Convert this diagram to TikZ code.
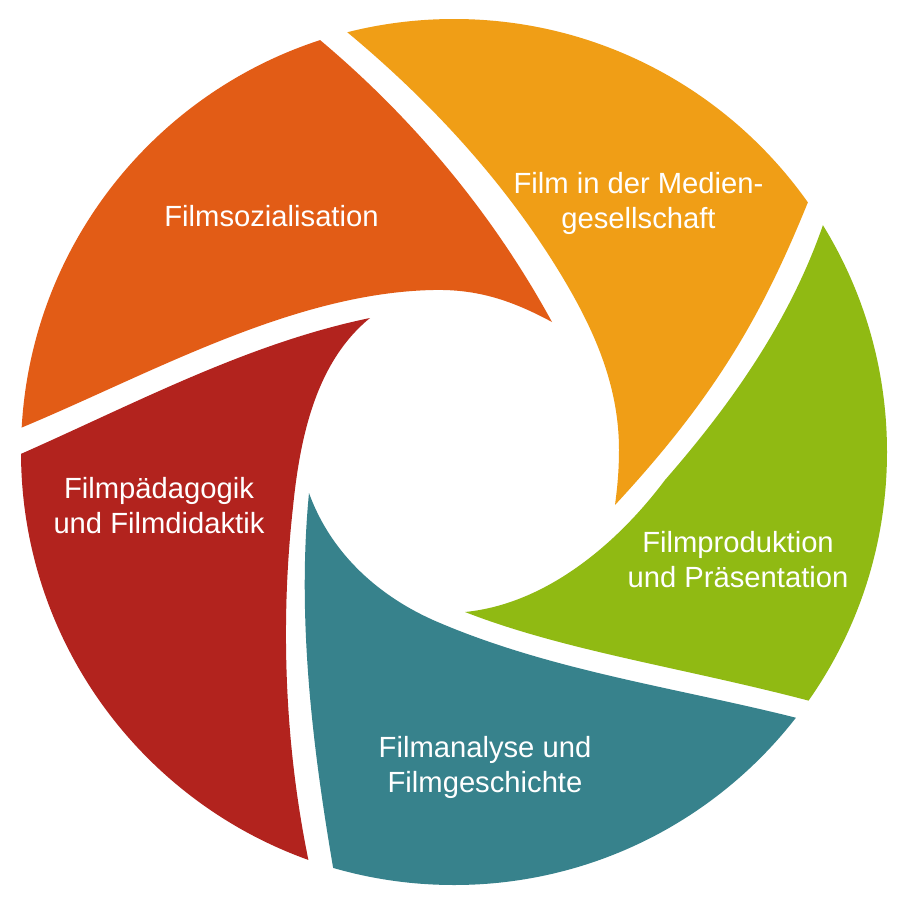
\documentclass[tikz,border=0pt]{standalone}
\usepackage{fontspec}
\setmainfont{Liberation Sans}
\definecolor{cOrange}{RGB}{226,92,22}
\definecolor{cYellow}{RGB}{240,158,22}
\definecolor{cGreen}{RGB}{144,186,19}
\definecolor{cTeal}{RGB}{55,130,140}
\definecolor{cRed}{RGB}{178,35,30}
\begin{document}
\begin{tikzpicture}[x=1pt,y=-1pt,
  bladefill/.style={draw=none},
  blabel/.style={text=white, align=center, inner sep=0pt,
    font=\fontsize{29.2}{35}\selectfont}]
\useasboundingbox (0,0) rectangle (900,900);
\fill[white] (0,0) rectangle (900,900);
\begin{scope}
\clip (454,452) circle[radius=433];
% Filmsozialisation (orange)
\fill[bladefill, cOrange] (-14,442) -- (23,427)
  .. controls (152,373) and (293,293) .. (433,290)
  .. controls (478,289) and (512,300.5) .. (552,322)
  .. controls (493,214) and (414,119) .. (320,40)
  -- (293,10) -- (-60,-60) -- (-60,442) -- cycle;
% Film in der Mediengesellschaft (yellow)
\fill[bladefill, cYellow] (318,4) -- (347,32)
  .. controls (430,101) and (504,181) .. (560,273)
  .. controls (594,329) and (619,385) .. (619,450)
  .. controls (619,472) and (617,490) .. (615,505)
  .. controls (717,395) and (763,313) .. (808,202)
  -- (826,166) -- (960,-60) -- (318,-60) -- cycle;
% Filmproduktion (green)
\fill[bladefill, cGreen] (841,189) -- (823,225)
  .. controls (790,320) and (733,402) .. (665,480)
  .. controls (617,544) and (546,604) .. (465,612)
  .. controls (565,651) and (685,668) .. (810,701)
  -- (849,710) -- (960,720) -- (960,180) -- cycle;
% Filmanalyse (teal)
\fill[bladefill, cTeal] (341,906) -- (333,867)
  .. controls (312,744) and (297,617) .. (309,493)
  .. controls (331,554) and (380,598) .. (440,623)
  .. controls (553,671) and (678,688) .. (797,718)
  -- (836,728) -- (960,740) -- (960,960) -- (345,960) -- cycle;
% Filmpaedagogik (red)
\fill[bladefill, cRed] (-14,468) -- (23,453)
  .. controls (138,402) and (249,343) .. (370,318)
  .. controls (316,362) and (300,437) .. (293,507)
  .. controls (280,623) and (285,745) .. (308,858)
  -- (315,897) -- (-60,960) -- (-60,468) -- cycle;
\end{scope}
\node[blabel] (sozial) at (271.5,216.5) {Filmsozialisation};
\node[blabel] (medien) at (638.5,203) {Film in der Medien-\\gesellschaft};
\node[blabel] (paed) at (159,506) {Filmpädagogik\\und Filmdidaktik};
\node[blabel] (prod) at (738,559.7) {Filmproduktion\\und Präsentation};
\node[blabel] (analyse) at (485,767) {Filmanalyse und\\Filmgeschichte};
\end{tikzpicture}
\end{document}
